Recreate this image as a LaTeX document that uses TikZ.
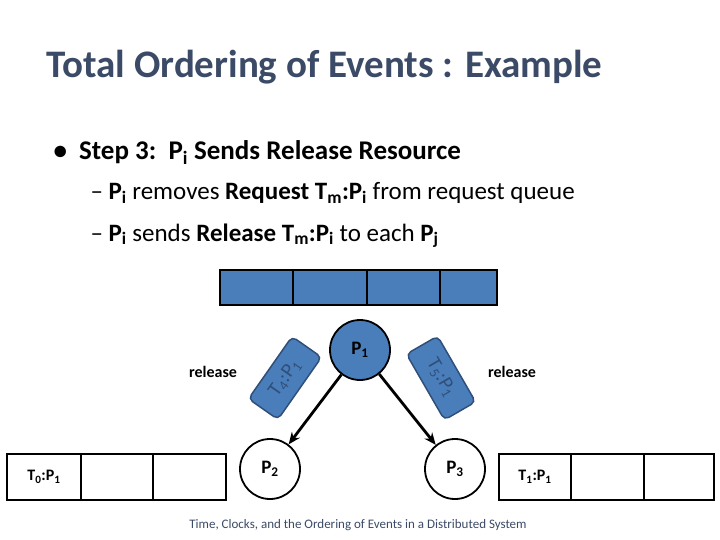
\documentclass[tikz,border=0pt]{standalone}
\usepackage{fontspec}
\setmainfont{Carlito}
\usetikzlibrary{arrows.meta}
\begin{document}
\begin{tikzpicture}[x=1pt,y=-1pt,
  qblue/.style={fill=qb,draw=black,line width=2pt},
  cell/.style={draw=black,line width=2pt},
  proc/.style={circle,draw=black,line width=1.8pt,minimum size=60pt,inner sep=0pt,font=\bfseries\fontsize{19}{19}\selectfont},
  msg/.style={rounded corners=5pt,fill=qb,draw=qd,line width=1.5pt,minimum width=76pt,minimum height=36pt,font=\fontsize{20}{20}\selectfont,text=qd},
  lab/.style={font=\bfseries\fontsize{16}{16}\selectfont},
  arr/.style={-{Stealth[length=12pt,width=10pt]},line width=2.8pt}]
\definecolor{qb}{HTML}{4A7EBB}
\definecolor{qd}{HTML}{2F4F7A}
\definecolor{tc}{HTML}{3B4A66}
\useasboundingbox (0,0) rectangle (720,540);
\node[anchor=base west,text=tc,font=\bfseries\fontsize{39}{39}\selectfont] (title) at (43,78) {Total Ordering of Events : Example};
\node[anchor=base west,font=\bfseries\fontsize{27}{27}\selectfont] (b1) at (50,160) {\textbullet\ \ Step 3:\ \ P\textsubscript{i} Sends Release Resource};
\node[anchor=base west,font=\fontsize{25}{25}\selectfont] (b2) at (87,200) {– \textbf{P\textsubscript{i}} removes \textbf{Request T\textsubscript{m}:P\textsubscript{i}} from request queue};
\node[anchor=base west,font=\fontsize{25}{25}\selectfont] (b3) at (87,241) {– \textbf{P\textsubscript{i}} sends \textbf{Release T\textsubscript{m}:P\textsubscript{i}} to each \textbf{P\textsubscript{j}}};
% top queue
\draw[qblue] (220,270) rectangle (497,305);
\foreach \x in {293,367,440} \draw[line width=2pt] (\x,270) -- (\x,305);
% side queues
\draw[cell] (7,454) rectangle (226,500);
\foreach \x in {81,153} \draw[line width=2pt] (\x,454) -- (\x,500);
\draw[cell] (499,454) rectangle (714,500);
\foreach \x in {571,644} \draw[line width=2pt] (\x,454) -- (\x,500);
\node[lab] (q0) at (44,477) {T\textsubscript{0}:P\textsubscript{1}};
\node[lab] (q1) at (535,477) {T\textsubscript{1}:P\textsubscript{1}};
% processes
\node[proc,fill=qb] (p1) at (360,350) {P\textsubscript{1}};
\node[proc,fill=white] (p2) at (270,469) {P\textsubscript{2}};
\node[proc,fill=white] (p3) at (455,469) {P\textsubscript{3}};
\draw[arr] (p1) -- (p2);
\draw[arr] (p1) -- (p3);
\node[msg,rotate=55] (m4) at (285,378) {T\textsubscript{4}:P\textsubscript{1}};
\node[msg,rotate=-60] (m5) at (441,378) {T\textsubscript{5}:P\textsubscript{1}};
\node[lab] (r1) at (213,372) {release};
\node[lab] (r2) at (512,372) {release};
\node[text=tc,font=\fontsize{13}{13}\selectfont] (foot) at (358,525) {Time, Clocks, and the Ordering of Events in a Distributed System};
\end{tikzpicture}
\end{document}
